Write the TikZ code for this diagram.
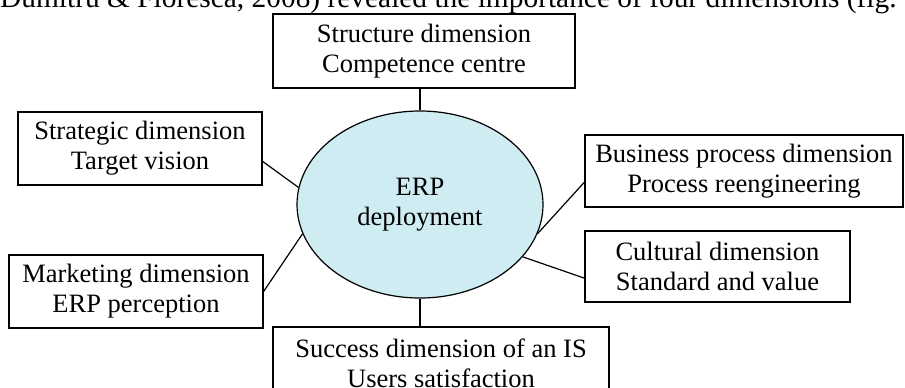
\documentclass[tikz,border=0pt]{standalone}
\usepackage[RGB]{xcolor}
\usepackage{fontspec}
\setmainfont{Liberation Serif}
\usepackage{tikz}
\usetikzlibrary{shapes.geometric}
\definecolor{E}{RGB}{206,236,241}
\newcommand{\twolines}[2]{#1\\#2}
\begin{document}
\begin{tikzpicture}[x=0.5pt,y=-0.5pt,
    font=\fontsize{13.25}{15}\selectfont,
    dimbox/.style={draw,line width=0.6pt,inner sep=0pt,align=center},
    erpnode/.style={draw,ellipse,fill=E,line width=0.6pt,inner sep=0pt,align=center,minimum width=123pt,minimum height=93.5pt},
    link/.style={line width=0.6pt}]
\clip (0,0) rectangle (905,387);
\useasboundingbox (0,0) rectangle (905,387);
\node[anchor=base east,inner sep=0pt,font=\fontsize{14.7}{16}\selectfont] (head) at (897,7) {Dumitru \& Floresca, 2008) revealed the importance of four dimensions (fig.};
\node[erpnode] (erp) at (420,204.5) {\twolines{ERP}{deployment}};
\node[dimbox,minimum width=151pt,minimum height=37pt] (struct) at (424,51) {\twolines{Structure dimension}{Competence centre}};
\node[dimbox,minimum width=122pt,minimum height=36.5pt] (strat) at (140,148.5) {\twolines{Strategic dimension}{Target vision}};
\node[dimbox,minimum width=127pt,minimum height=36.5pt] (market) at (136,291.5) {\twolines{Marketing dimension}{ERP perception}};
\node[dimbox,minimum width=159pt,minimum height=36pt] (busi) at (744,171) {\twolines{Business process dimension}{Process reengineering}};
\node[dimbox,minimum width=132.5pt,minimum height=35.5pt] (cult) at (717.5,266.5) {\twolines{Cultural dimension}{Standard and value}};
\node[dimbox,minimum width=168pt,minimum height=36.5pt] (succ) at (441,363.5) {\twolines{Success dimension of an IS}{Users satisfaction}};
% connectors
\draw[link] (erp.north) -- (erp.north |- struct.south);
\draw[link] (erp.south) -- (erp.south |- succ.north);
\draw[link] (strat.-6.8) -- (erp.172.8);
\draw[link] (market.east) -- (erp.194.2);
\draw[link] (busi.184.3) -- (erp.346.3);
\draw[link] (cult.185) -- (erp.-27.7);
\end{tikzpicture}
\end{document}
